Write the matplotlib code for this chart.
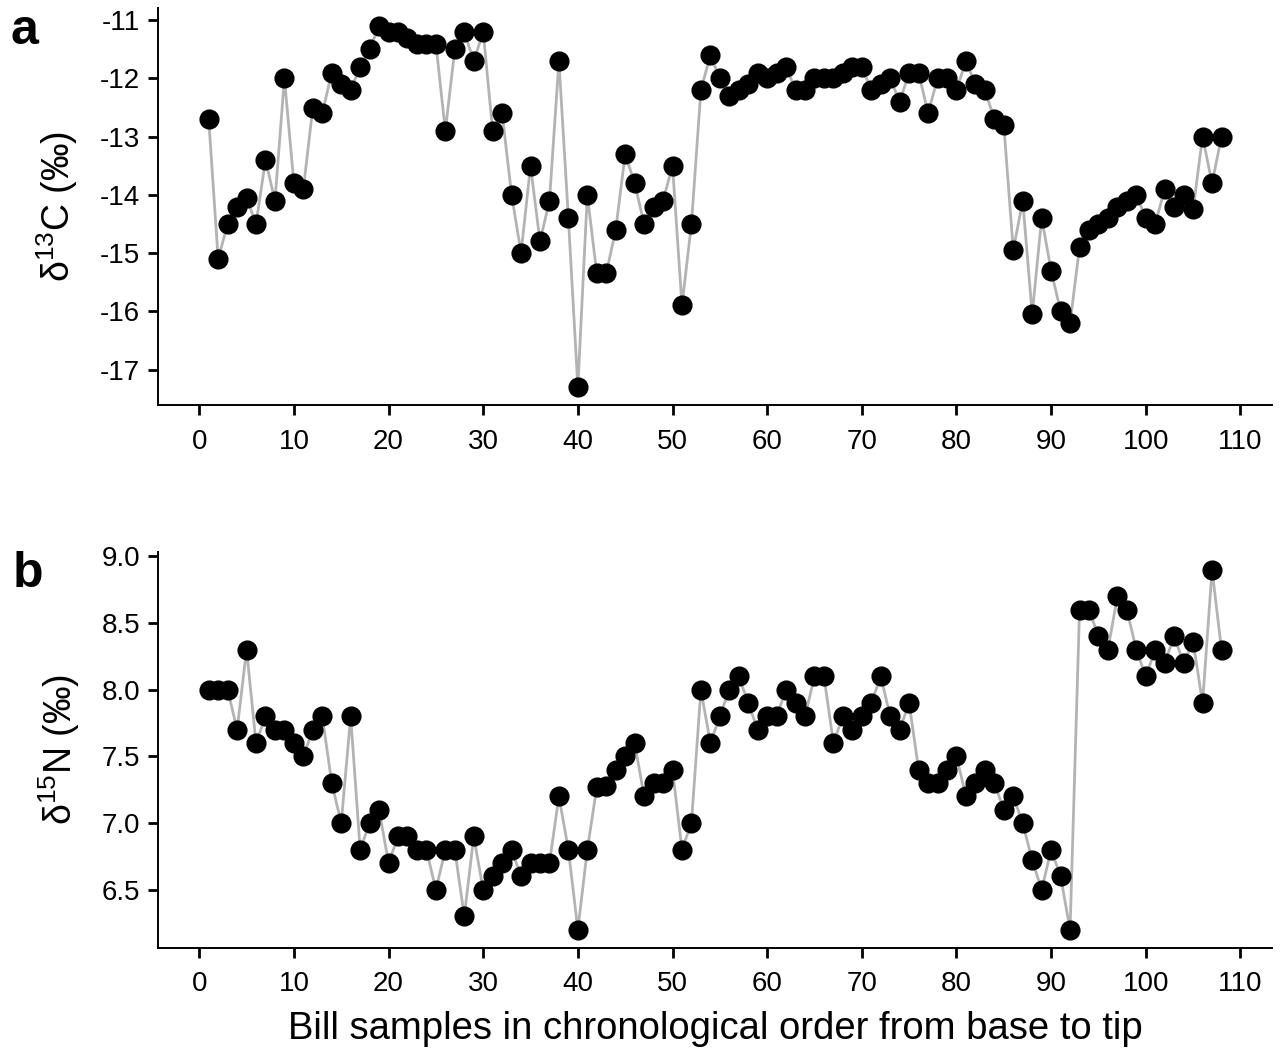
import numpy as np
import matplotlib
matplotlib.use("Agg")
from matplotlib import pyplot as plt

# sample number (base -> tip)
sample = np.arange(1, 109)

# delta 13C (per mil)
d13c = [-12.7, -15.1, -14.5, -14.2, -14.05, -14.5, -13.4, -14.1, -12.0, -13.8,
        -13.9, -12.5, -12.6, -11.9, -12.1, -12.2, -11.8, -11.5, -11.1, -11.2,
        -11.2, -11.3, -11.4, -11.4, -11.4, -12.9, -11.5, -11.2, -11.7, -11.2,
        -12.9, -12.6, -14.0, -15.0, -13.5, -14.8, -14.1, -11.7, -14.4, -17.3,
        -14.0, -15.35, -15.35, -14.6, -13.3, -13.8, -14.5, -14.2, -14.1, -13.5,
        -15.9, -14.5, -12.2, -11.6, -12.0, -12.3, -12.2, -12.1, -11.9, -12.0,
        -11.9, -11.8, -12.2, -12.2, -12.0, -12.0, -12.0, -11.9, -11.8, -11.8,
        -12.2, -12.1, -12.0, -12.4, -11.9, -11.9, -12.6, -12.0, -12.0, -12.2,
        -11.7, -12.1, -12.2, -12.7, -12.8, -14.95, -14.1, -16.05, -14.4, -15.3,
        -16.0, -16.2, -14.9, -14.6, -14.5, -14.4, -14.2, -14.1, -14.0, -14.4,
        -14.5, -13.9, -14.2, -14.0, -14.25, -13.0, -13.8, -13.0]

# delta 15N (per mil)
d15n = [8.0, 8.0, 8.0, 7.7, 8.3, 7.6, 7.8, 7.7, 7.7, 7.6,
        7.5, 7.7, 7.8, 7.3, 7.0, 7.8, 6.8, 7.0, 7.1, 6.7,
        6.9, 6.9, 6.8, 6.8, 6.5, 6.8, 6.8, 6.3, 6.9, 6.5,
        6.6, 6.7, 6.8, 6.6, 6.7, 6.7, 6.7, 7.2, 6.8, 6.2,
        6.8, 7.27, 7.28, 7.4, 7.5, 7.6, 7.2, 7.3, 7.3, 7.4,
        6.8, 7.0, 8.0, 7.6, 7.8, 8.0, 8.1, 7.9, 7.7, 7.8,
        7.8, 8.0, 7.9, 7.8, 8.1, 8.1, 7.6, 7.8, 7.7, 7.8,
        7.9, 8.1, 7.8, 7.7, 7.9, 7.4, 7.3, 7.3, 7.4, 7.5,
        7.2, 7.3, 7.4, 7.3, 7.1, 7.2, 7.0, 6.72, 6.5, 6.8,
        6.6, 6.2, 8.6, 8.6, 8.4, 8.3, 8.7, 8.6, 8.3, 8.1,
        8.3, 8.2, 8.4, 8.2, 8.36, 7.9, 8.9, 8.3]

plt.rcParams['font.family'] = ['Liberation Sans', 'DejaVu Sans']
plt.rcParams['mathtext.fontset'] = 'custom'
plt.rcParams['mathtext.rm'] = 'Liberation Sans'
plt.rcParams['mathtext.it'] = 'Liberation Sans:italic'
plt.rcParams['axes.unicode_minus'] = False

fig = plt.figure(figsize=(12.85, 10.52), dpi=100)
ax_a = fig.add_axes([0.123, 0.615, 0.867, 0.3774])
ax_b = fig.add_axes([0.123, 0.0991, 0.867, 0.3765])

def draw_panel(ax, y, ylabel):
    ax.plot(sample, y, color='#b3b3b3', lw=2.0, zorder=1)
    ax.plot(sample, y, 'o', color='black', ms=13.5, zorder=2)
    ax.margins(x=0.05, y=0.05)
    ax.set_xticks(np.arange(0, 111, 10))
    for s in ['top', 'right']:
        ax.spines[s].set_visible(False)
    for s in ['left', 'bottom']:
        ax.spines[s].set_linewidth(1.4)
    ax.tick_params(direction='out', length=7, width=2, labelsize=20, pad=6,
                   colors='black')
    ax.tick_params(axis='x', pad=10)
    ax.set_ylabel(ylabel, fontsize=27, labelpad=14)

draw_panel(ax_a, d13c, 'δ$^{13}$C (‰)')
ax_a.set_yticks([-11, -12, -13, -14, -15, -16, -17])

draw_panel(ax_b, d15n, 'δ$^{15}$N (‰)')
ax_b.set_yticks([6.5, 7.0, 7.5, 8.0, 8.5, 9.0])
ax_b.set_yticklabels(['6.5', '7.0', '7.5', '8.0', '8.5', '9.0'])
ax_b.set_xlabel('Bill samples in chronological order from base to tip', fontsize=27.5, labelpad=10)

fig.text(0.008, 0.958, 'a', fontsize=36, fontweight='bold', va='baseline')
fig.text(0.010, 0.442, 'b', fontsize=36, fontweight='bold', va='baseline')

fig.savefig('out.png', dpi=100)
